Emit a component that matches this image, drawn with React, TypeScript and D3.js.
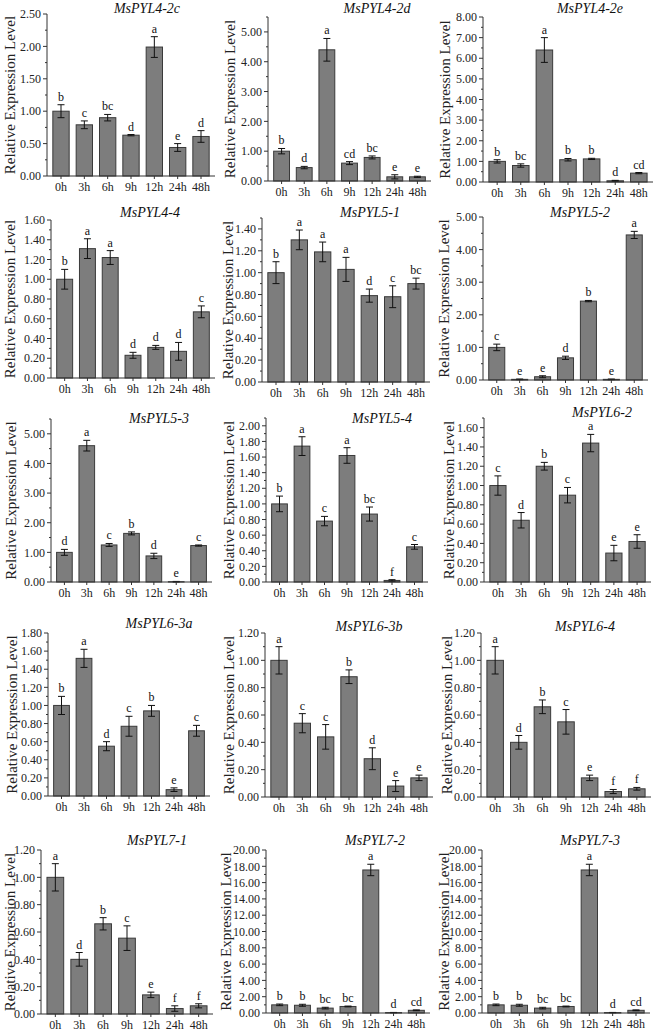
import React from "react";
import * as d3 from "d3";

const timePoints = ["0h", "3h", "6h", "9h", "12h", "24h", "48h"];

const genes = [
  "MsPYL4-2c", "MsPYL4-2d", "MsPYL4-2e",
  "MsPYL4-4", "MsPYL5-1", "MsPYL5-2",
  "MsPYL5-3", "MsPYL5-4", "MsPYL6-2",
  "MsPYL6-3a", "MsPYL6-3b", "MsPYL6-4",
  "MsPYL7-1", "MsPYL7-2", "MsPYL7-3",
];

const means = [
  [1.0, 0.79, 0.9, 0.63, 1.99, 0.44, 0.61],
  [1.0, 0.45, 4.4, 0.6, 0.79, 0.14, 0.14],
  [1.0, 0.8, 6.4, 1.08, 1.12, 0.06, 0.43],
  [1.0, 1.31, 1.22, 0.23, 0.31, 0.27, 0.67],
  [1.0, 1.3, 1.19, 1.03, 0.79, 0.78, 0.9],
  [1.0, 0.02, 0.1, 0.68, 2.42, 0.02, 4.45],
  [1.0, 4.6, 1.25, 1.64, 0.88, 0.01, 1.23],
  [1.0, 1.74, 0.78, 1.62, 0.87, 0.02, 0.45],
  [1.0, 0.64, 1.2, 0.9, 1.44, 0.3, 0.42],
  [1.0, 1.52, 0.55, 0.77, 0.94, 0.07, 0.72],
  [1.0, 0.54, 0.44, 0.88, 0.28, 0.08, 0.14],
  [1.0, 0.4, 0.66, 0.55, 0.14, 0.04, 0.06],
  [1.0, 0.4, 0.66, 0.555, 0.14, 0.04, 0.06],
  [1.0, 0.95, 0.6, 0.8, 17.55, 0.05, 0.33],
  [1.0, 0.95, 0.6, 0.8, 17.55, 0.05, 0.33],
];

const errors = [
  [0.1, 0.06, 0.05, 0.01, 0.16, 0.06, 0.09],
  [0.09, 0.04, 0.38, 0.05, 0.05, 0.07, 0.02],
  [0.08, 0.08, 0.6, 0.06, 0.03, 0.02, 0.03],
  [0.1, 0.1, 0.07, 0.03, 0.02, 0.09, 0.06],
  [0.1, 0.09, 0.09, 0.11, 0.06, 0.1, 0.05],
  [0.1, 0.01, 0.03, 0.05, 0.02, 0.01, 0.11],
  [0.1, 0.18, 0.05, 0.05, 0.09, 0.01, 0.02],
  [0.1, 0.12, 0.06, 0.1, 0.09, 0.01, 0.03],
  [0.1, 0.08, 0.04, 0.08, 0.09, 0.08, 0.07],
  [0.1, 0.1, 0.05, 0.11, 0.06, 0.02, 0.06],
  [0.1, 0.07, 0.09, 0.05, 0.08, 0.04, 0.02],
  [0.1, 0.05, 0.05, 0.09, 0.02, 0.015, 0.01],
  [0.1, 0.05, 0.045, 0.09, 0.02, 0.02, 0.015],
  [0.1, 0.12, 0.1, 0.05, 0.7, 0.02, 0.05],
  [0.1, 0.12, 0.1, 0.05, 0.7, 0.02, 0.05],
];

const letters = [
  ["b", "c", "bc", "d", "a", "e", "d"],
  ["b", "d", "a", "cd", "bc", "e", "e"],
  ["b", "bc", "a", "b", "b", "d", "cd"],
  ["b", "a", "a", "d", "d", "d", "c"],
  ["b", "a", "a", "a", "d", "c", "bc"],
  ["c", "e", "e", "d", "b", "e", "a"],
  ["d", "a", "c", "b", "d", "e", "c"],
  ["b", "a", "c", "a", "bc", "f", "c"],
  ["c", "d", "b", "c", "a", "e", "e"],
  ["b", "a", "d", "c", "b", "e", "c"],
  ["a", "c", "c", "b", "d", "e", "e"],
  ["a", "d", "b", "c", "e", "f", "f"],
  ["a", "d", "b", "c", "e", "f", "f"],
  ["b", "b", "bc", "bc", "a", "d", "cd"],
  ["b", "b", "bc", "bc", "a", "d", "cd"],
];

const axisMax = [2.5, 5.5, 8, 1.6, 1.5, 5, 5.5, 2.1, 1.7, 1.8, 1.2, 1.2, 1.2, 20, 20];
const tickStep = [0.5, 1, 1, 0.2, 0.2, 1, 1, 0.2, 0.2, 0.2, 0.2, 0.2, 0.2, 2, 2];

// panel placement: y-axis x, x-axis end, pixel of axis max, pixel of zero,
// title x / baseline, y-label centre x
const layout = [
  { ax: 47, xe: 215, yt: 14, y0: 176, tx: 147, ty: 13, lx: 10 },
  { ax: 268, xe: 431, yt: 17, y0: 181, tx: 377, ty: 13, lx: 230 },
  { ax: 483, xe: 653, yt: 17, y0: 182, tx: 590, ty: 13, lx: 445 },
  { ax: 51, xe: 215, yt: 220, y0: 378, tx: 150, ty: 217, lx: 10 },
  { ax: 262, xe: 430, yt: 218, y0: 382, tx: 370, ty: 217, lx: 228 },
  { ax: 483, xe: 648, yt: 217, y0: 380, tx: 580, ty: 217, lx: 444 },
  { ax: 51, xe: 212, yt: 419, y0: 582, tx: 159, ty: 423, lx: 11 },
  { ax: 266, xe: 428, yt: 418, y0: 582, tx: 382, ty: 423, lx: 229 },
  { ax: 484, xe: 651, yt: 418, y0: 582, tx: 602, ty: 417, lx: 449 },
  { ax: 48, xe: 210, yt: 633, y0: 796, tx: 159, ty: 628, lx: 12 },
  { ax: 265, xe: 433, yt: 633, y0: 797, tx: 369, ty: 631, lx: 229 },
  { ax: 481, xe: 651, yt: 633, y0: 797, tx: 585, ty: 631, lx: 447 },
  { ax: 41, xe: 213, yt: 850, y0: 1014, tx: 157, ty: 845, lx: 10 },
  { ax: 266, xe: 430, yt: 850, y0: 1013, tx: 375, ty: 845, lx: 226 },
  { ax: 482, xe: 650, yt: 850, y0: 1013, tx: 590, ty: 845, lx: 444 },
];

const FONT = "Liberation Serif, Times New Roman, DejaVu Serif, serif";
const BAR_FILL = "#7d7d7d";
const BAR_STROKE = "#3a3a3a";
const AXIS = "#333";

function Panel({ i }: { i: number }) {
  const L = layout[i];
  const max = axisMax[i];
  const step = tickStep[i];
  const x = d3
    .scaleBand<string>()
    .domain(timePoints)
    .range([L.ax, L.xe])
    .paddingInner(0.3)
    .paddingOuter(0.25);
  const y = d3.scaleLinear().domain([0, max]).range([L.y0, L.yt]);
  const n = Math.floor(max / step + 1e-6);
  const major = d3.range(n + 1).map((k) => k * step);
  const minor = d3
    .range(n + 1)
    .map((k) => (k + 0.5) * step)
    .filter((v) => v <= max + 1e-9);
  const fmt = d3.format(".2f");
  const bw = x.bandwidth();
  const cap = 3.5;
  return (
    <g>
      <text
        x={L.tx}
        y={L.ty}
        textAnchor="middle"
        fontFamily={FONT}
        fontStyle="italic"
        fontSize={14}
        fill="#111"
      >
        {genes[i]}
      </text>
      {timePoints.map((t, j) => {
        const v = means[i][j];
        const e = errors[i][j];
        const cx = (x(t) as number) + bw / 2;
        const lo = y(Math.max(0, v - e));
        const hi = y(v + e);
        return (
          <g key={t}>
            <rect
              x={x(t)}
              y={y(v)}
              width={bw}
              height={L.y0 - y(v)}
              fill={BAR_FILL}
              stroke={BAR_STROKE}
              strokeWidth={1}
            />
            <line x1={cx} x2={cx} y1={lo} y2={hi} stroke="#111" strokeWidth={1} />
            <line x1={cx - cap} x2={cx + cap} y1={hi} y2={hi} stroke="#111" strokeWidth={1} />
            <line x1={cx - cap} x2={cx + cap} y1={lo} y2={lo} stroke="#111" strokeWidth={1} />
            <text
              x={cx}
              y={hi - 4}
              textAnchor="middle"
              fontFamily={FONT}
              fontSize={12}
              fill="#111"
            >
              {letters[i][j]}
            </text>
          </g>
        );
      })}
      {/* y axis */}
      <line x1={L.ax} x2={L.ax} y1={L.y0} y2={L.yt} stroke={AXIS} strokeWidth={1} />
      {major.map((v) => (
        <g key={"M" + v}>
          <line x1={L.ax - 4} x2={L.ax} y1={y(v)} y2={y(v)} stroke={AXIS} strokeWidth={1} />
          <text
            x={L.ax - 6}
            y={y(v)}
            dy="0.35em"
            textAnchor="end"
            fontFamily={FONT}
            fontSize={12}
            fill="#222"
          >
            {fmt(v)}
          </text>
        </g>
      ))}
      {minor.map((v) => (
        <line key={"m" + v} x1={L.ax - 2} x2={L.ax} y1={y(v)} y2={y(v)} stroke={AXIS} strokeWidth={1} />
      ))}
      <text
        transform={`translate(${L.lx},${(L.yt + L.y0) / 2}) rotate(-90)`}
        textAnchor="middle"
        dy="0.35em"
        fontFamily={FONT}
        fontSize={15}
        fill="#222"
      >
        Relative Expression Level
      </text>
      {/* x axis */}
      <line x1={L.ax} x2={L.xe} y1={L.y0} y2={L.y0} stroke={AXIS} strokeWidth={1} />
      {timePoints.map((t) => {
        const cx = (x(t) as number) + bw / 2;
        return (
          <g key={"x" + t}>
            <line x1={cx} x2={cx} y1={L.y0} y2={L.y0 + 3} stroke={AXIS} strokeWidth={1} />
            <text
              x={cx}
              y={L.y0 + 15}
              textAnchor="middle"
              fontFamily={FONT}
              fontSize={12}
              fill="#222"
            >
              {t}
            </text>
          </g>
        );
      })}
    </g>
  );
}

export default function App() {
  return (
    <svg
      width={662}
      height={1036}
      viewBox="0 0 662 1036"
      style={{ position: "absolute", left: 0, top: 0, background: "#fff" }}
    >
      <rect width={662} height={1036} fill="#fff" />
      {genes.map((g, i) => (
        <Panel key={g} i={i} />
      ))}
    </svg>
  );
}
